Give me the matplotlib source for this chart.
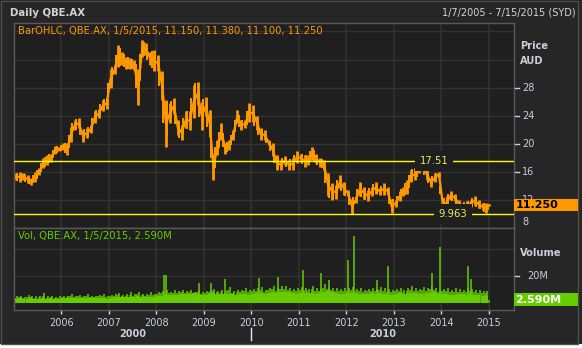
import numpy as np
import pandas as pd
import matplotlib
matplotlib.use("Agg")
import matplotlib.pyplot as plt
import matplotlib.dates as mdates
from matplotlib.patches import Rectangle

plt.rcParams['font.family'] = ['DejaVu Sans']

W, H = 582, 348

# ---------------- data ----------------
month_start = "2005-01-01"
n_months = 120
last_date = "2015-01-05"
last_open, last_high, last_low, last_close = 11.150, 11.380, 11.100, 11.250
last_vol = 2.590

price_high = [
    15.8, 16.0, 15.8, 15.5, 15.1, 16.0, 16.5, 17.9, 18.4, 18.6, 19.7, 19.6,
    20.1, 20.1, 22.4, 23.4, 23.6, 22.0, 22.2, 22.7, 24.6, 25.0, 26.2, 26.5,
    30.7, 31.2, 34.1, 33.1, 32.4, 32.2, 31.9, 30.7, 34.8, 34.3, 33.1, 33.4,
    32.6, 30.3, 26.2, 25.8, 26.5, 23.4, 22.7, 24.6, 24.6, 28.4, 28.8, 26.0,
    26.7, 24.8, 18.6, 20.5, 22.9, 20.1, 20.5, 22.0, 24.8, 23.4, 23.4, 25.8,
    25.5, 23.9, 22.2, 22.0, 20.5, 20.1, 18.4, 17.7, 18.2, 17.7, 17.9, 18.9,
    18.6, 18.4, 18.4, 19.6, 18.6, 17.9, 17.7, 15.8, 14.4, 14.1, 15.5, 14.6,
    13.4, 12.2, 12.5, 14.6, 13.9, 13.4, 13.9, 14.6, 13.7, 14.4, 13.9, 12.2,
    12.0, 13.2, 13.9, 14.8, 16.3, 16.5, 17.2, 17.5, 16.3, 15.1, 15.8, 16.0,
    12.0, 12.5, 13.2, 12.9, 12.0, 11.5, 11.8, 12.0, 12.5, 12.0, 11.5, 11.5,
]
price_low = [
    14.8, 14.6, 14.8, 14.4, 14.1, 14.6, 15.5, 16.5, 17.0, 17.4, 18.6, 18.9,
    19.1, 18.4, 20.3, 22.0, 22.2, 20.3, 20.8, 21.5, 22.9, 23.6, 24.6, 25.0,
    27.9, 30.0, 31.0, 31.2, 30.7, 30.7, 30.5, 25.5, 32.4, 32.6, 31.2, 30.3,
    30.3, 26.2, 19.6, 22.9, 24.3, 21.2, 20.5, 22.2, 22.0, 23.6, 25.5, 22.0,
    23.9, 21.0, 14.8, 18.4, 20.5, 18.6, 19.1, 20.5, 22.9, 22.0, 22.2, 23.1,
    23.1, 22.0, 20.5, 20.5, 19.8, 18.2, 16.3, 16.3, 17.0, 16.3, 16.3, 17.2,
    17.4, 16.7, 17.0, 17.7, 17.2, 16.7, 16.3, 12.5, 12.0, 12.2, 13.7, 12.7,
    12.5, 9.96, 11.5, 12.5, 12.2, 11.8, 12.5, 12.9, 12.7, 12.7, 12.7, 10.1,
    11.0, 11.8, 12.5, 12.9, 14.6, 14.8, 15.8, 16.3, 14.8, 13.9, 14.6, 15.3,
    10.3, 11.0, 12.0, 11.8, 11.0, 10.8, 10.8, 11.0, 11.3, 10.8, 10.6, 10.1,
]

# volume, millions of shares
vol_typ = [
    3.4, 3.6, 3.3, 3.5, 3.7, 3.5, 3.4, 3.7, 3.5, 3.8, 3.4, 3.3,
    3.7, 3.8, 3.6, 3.9, 4.1, 3.8, 3.7, 3.9, 3.8, 4.0, 3.9, 3.5,
    4.2, 4.3, 4.6, 4.3, 4.6, 4.5, 4.7, 5.1, 4.6, 4.8, 4.9, 4.6,
    5.0, 5.4, 6.4, 6.0, 6.2, 6.0, 6.5, 6.8, 7.0, 7.2, 6.8, 5.8,
    6.4, 7.0, 7.6, 7.0, 6.8, 6.5, 6.9, 6.5, 6.3, 6.6, 6.8, 6.1,
    7.0, 7.5, 7.2, 7.0, 7.8, 8.0, 7.6, 8.2, 8.4, 8.0, 7.4, 7.1,
    7.5, 7.8, 7.5, 7.3, 7.1, 7.6, 8.5, 9.2, 8.0, 7.4, 7.0, 6.7,
    7.2, 7.6, 7.3, 6.9, 6.7, 7.0, 7.2, 6.9, 7.4, 7.1, 6.7, 6.4,
    6.9, 7.2, 6.8, 7.0, 7.4, 7.2, 7.0, 6.8, 7.2, 7.6, 8.0, 7.0,
    6.9, 6.7, 6.4, 6.3, 6.6, 6.8, 6.2, 7.0, 6.4, 6.0, 5.7, 5.4,
]
vol_max = [
    5.0, 5.5, 4.8, 6.0, 5.2, 5.0, 5.5, 7.3, 5.0, 5.5, 4.8, 5.2,
    5.5, 5.2, 6.5, 5.5, 6.0, 5.2, 7.0, 5.5, 5.2, 6.0, 6.5, 5.5,
    6.0, 7.0, 7.5, 6.0, 6.5, 8.0, 6.5, 8.5, 7.0, 6.5, 8.0, 7.0,
    8.0, 9.0, 9.5, 8.5, 9.5, 9.3, 10.0, 9.0, 9.5, 8.5, 9.5, 8.5,
    9.0, 10.0, 10.5, 9.0, 9.5, 9.0, 12.0, 9.0, 10.0, 9.5, 11.0, 10.0,
    10.5, 11.0, 12.0, 10.0, 11.5, 13.0, 11.0, 12.5, 13.0, 11.0, 10.5, 11.0,
    12.0, 11.0, 10.5, 13.0, 11.0, 10.5, 14.0, 12.0, 11.5, 11.0, 10.5, 11.0,
    11.0, 12.0, 10.5, 11.0, 10.0, 10.5, 11.0, 10.5, 12.0, 11.0, 10.5, 10.0,
    10.5, 11.0, 10.0, 11.5, 12.5, 11.0, 10.5, 12.0, 11.0, 13.0, 11.5, 10.0,
    10.5, 11.5, 10.0, 11.0, 10.5, 10.0, 11.0, 10.5, 10.0, 9.5, 9.0, 9.0,
]
spike_dates = [
    "2008-02-28", "2008-03-18", "2008-11-28", "2009-02-28", "2009-06-10",
    "2010-02-28", "2010-07-23", "2011-02-03", "2011-06-18", "2011-08-25",
    "2012-01-15", "2012-02-28", "2012-08-22", "2012-11-18", "2013-10-20",
    "2013-12-20", "2014-07-26", "2014-08-22",
]
spike_vol = [
    20.7, 20.7, 14.6, 14.6, 17.6,
    18.3, 19.5, 24.4, 22.0, 17.0,
    31.7, 49.0, 17.0, 27.0, 22.4,
    41.5, 27.0, 18.0,
]

level_hi = 17.51
level_lo = 9.963

price_ticks = [8, 12, 16, 20, 24, 28]
price_grid = [12, 16, 20, 24, 28, 32, 36]
vol_ticks = [0, 20]
vol_grid = [20, 40]
years = list(range(2006, 2016))
x_start, x_end = "2005-01-01", "2015-07-15"

# ---------------- colours ----------------
BG_OUT = '#262626'
BG_PLOT = '#1f1f1f'
GRID = '#333333'
SPINE = '#5a5a5a'
ORANGE = '#ff9900'
GREEN = '#66cc00'
YELLOW = '#ffff00'
LBL = '#c8d0dc'

# ---------------- figure ----------------
fig = plt.figure(figsize=(W / 100, H / 100), dpi=100, facecolor='white')


def fx(px):
    return px / W


def fy(py):
    return 1 - py / H


fig.add_artist(Rectangle((0, fy(344)), 1, 344 / H, transform=fig.transFigure,
                         facecolor=BG_OUT, edgecolor='none', zorder=-10))
fig.add_artist(Rectangle((fx(0.5), fy(343.5)), fx(578) - fx(0.5), 343 / H,
                         transform=fig.transFigure, facecolor='none',
                         edgecolor='#4e4e4e', lw=1, zorder=-9))

ax_p = fig.add_axes([fx(14), fy(228), fx(514) - fx(14), fy(23) - fy(228)])
ax_v = fig.add_axes([fx(14), fy(310), fx(514) - fx(14), fy(228) - fy(310)])

months = pd.date_range(month_start, periods=n_months, freq="MS") + pd.Timedelta(days=14)
xm = mdates.date2num(months.to_pydatetime())
x_last = mdates.date2num(pd.Timestamp(last_date).to_pydatetime())
xlim = (mdates.date2num(pd.Timestamp(x_start).to_pydatetime()),
        mdates.date2num(pd.Timestamp(x_end).to_pydatetime()))
year_x = [mdates.date2num(pd.Timestamp(f"{y}-01-01").to_pydatetime()) for y in years]

for ax in (ax_p, ax_v):
    ax.set_facecolor(BG_PLOT)
    ax.set_xlim(*xlim)
    for s in ax.spines.values():
        s.set_color(SPINE)
        s.set_linewidth(1)
    for xv in year_x:
        ax.axvline(xv, color='#2d2d2d', lw=1.6, zorder=0.5)
    ax.tick_params(left=False, labelleft=False, right=False, labelright=False,
                   bottom=False, labelbottom=False, top=False, labeltop=False)

# ---- price panel ----
ax_p.set_ylim(8, 37.2)
for g in price_grid:
    ax_p.axhline(g, color=GRID, lw=1, zorder=0.6)

px_all = np.append(xm, x_last)
lo_all = np.append(price_low, last_low)
hi_all = np.append(price_high, last_high)
ax_p.vlines(px_all, lo_all, hi_all, color=ORANGE, lw=2.0, zorder=2)
ax_p.vlines(px_all[:-1] + 10, (lo_all[:-1] + lo_all[1:]) / 2, (hi_all[:-1] + hi_all[1:]) / 2,
            color=ORANGE, lw=1.4, zorder=2)
ax_p.plot(px_all, (lo_all + hi_all) / 2, color=ORANGE, lw=1.6, zorder=2,
          solid_joinstyle='miter')

ax_p.axhline(level_hi, color=YELLOW, lw=1, zorder=3)
ax_p.axhline(level_lo, color=YELLOW, lw=1, zorder=3)
x_lbl_hi = mdates.date2num(pd.Timestamp("2013-11-06").to_pydatetime())
x_lbl_lo = mdates.date2num(pd.Timestamp("2014-04-01").to_pydatetime())
ax_p.text(x_lbl_hi, level_hi, f"{level_hi:.2f}", color='#e6ee5a', fontsize=7.2,
          ha='center', va='center', zorder=4,
          bbox=dict(facecolor=BG_PLOT, edgecolor='none', pad=3.5))
ax_p.text(x_lbl_lo, level_lo, f"{level_lo:.3f}", color='#e6ee5a', fontsize=7.2,
          ha='center', va='center', zorder=4,
          bbox=dict(facecolor=BG_PLOT, edgecolor='none', pad=3.5))

ytr = ax_p.get_yaxis_transform()
for v in price_ticks:
    dy = 6 / 7.02 if v == 8 else 0
    if v != 8:
        ax_p.plot([1.002, 1.009], [v, v], transform=ytr, color=LBL, lw=1,
                  clip_on=False, zorder=4)
    ax_p.text(1.016, v + dy, str(v), transform=ytr, color=LBL, fontsize=7,
              ha='left', va='center', clip_on=False)

ax_p.add_patch(Rectangle((1.0, last_close - 0.86), 0.128, 1.72, transform=ytr,
                         facecolor=ORANGE, edgecolor='none', clip_on=False, zorder=6))
ax_p.text(1.003, last_close, f"{last_close:.3f}", transform=ytr, color='black',
          fontsize=8, fontweight='bold', ha='left', va='center', clip_on=False, zorder=7)

# ---- volume panel ----
ax_v.set_ylim(-4.9, 55.2)
for g in vol_grid:
    ax_v.axhline(g, color=GRID, lw=1, zorder=0.6)
ax_v.bar(xm, vol_typ, width=30.5, color=GREEN, linewidth=0, zorder=2)
ax_v.vlines(xm + 8, 0, vol_max, color=GREEN, lw=1.1, zorder=2)
ax_v.vlines(xm - 6, 0, (np.array(vol_typ) + np.array(vol_max)) / 2, color=GREEN,
            lw=1.1, zorder=2)
sx = mdates.date2num(pd.to_datetime(spike_dates).to_pydatetime())
ax_v.vlines(sx, 0, spike_vol, color=GREEN, lw=1.1, zorder=2)
ax_v.vlines([x_last], 0, [last_vol], color=GREEN, lw=1.1, zorder=2)

vtr = ax_v.get_yaxis_transform()
for v in vol_ticks:
    if v != 0:
        ax_v.plot([1.002, 1.009], [v, v], transform=vtr, color=LBL, lw=1,
                  clip_on=False, zorder=4)
    ax_v.text(1.026, v, "0" if v == 0 else f"{v}M", transform=vtr, color=LBL,
              fontsize=7, ha='left', va='center', clip_on=False)
ax_v.add_patch(Rectangle((1.0, last_vol - 4.8), 0.128, 9.6, transform=vtr,
                         facecolor=GREEN, edgecolor='none', clip_on=False, zorder=6))
ax_v.text(1.003, last_vol, f"{last_vol:.3f}M", transform=vtr, color='white',
          fontsize=8, fontweight='bold', ha='left', va='center', clip_on=False, zorder=7)

ax_v.set_xticks(year_x)
ax_v.set_xticklabels([str(y) for y in years])
ax_v.tick_params(axis='x', bottom=True, labelbottom=True, length=3, width=1,
                 color='#dddddd', labelcolor=LBL, labelsize=7, pad=3)

xtr = ax_v.get_xaxis_transform()
x2010 = mdates.date2num(pd.Timestamp("2010-01-01").to_pydatetime())
ax_v.plot([x2010, x2010], [-(328 - 310) / 82, -(340 - 310) / 82], transform=xtr,
          color='#e8e8e8', lw=1, clip_on=False)
ax_v.text((xlim[0] + x2010) / 2, -(334 - 310) / 82, "2000", transform=xtr,
          color=LBL, fontsize=7, fontweight='bold', ha='center', va='center')
ax_v.text((x2010 + xlim[1]) / 2, -(334 - 310) / 82, "2010", transform=xtr,
          color=LBL, fontsize=7, fontweight='bold', ha='center', va='center')

# ---- texts ----
fig.text(fx(10), fy(12.5), "Daily QBE.AX", color='#d4d4d4', fontsize=7.3,
         fontweight='bold', ha='left', va='center')
fig.text(fx(576), fy(12.5), "1/7/2005 - 7/15/2015 (SYD)", color='#d4d4d4',
         fontsize=7, ha='right', va='center')
fig.text(fx(18), fy(31), "BarOHLC, QBE.AX, 1/5/2015, 11.150, 11.380, 11.100, 11.250",
         color=ORANGE, fontsize=7.2, ha='left', va='center')
fig.text(fx(18), fy(236.5), "Vol, QBE.AX, 1/5/2015, 2.590M",
         color=GREEN, fontsize=7.2, ha='left', va='center')
fig.text(fx(520), fy(46), "Price", color=LBL, fontsize=7.1, fontweight='bold',
         ha='left', va='center')
fig.text(fx(520), fy(61), "AUD", color=LBL, fontsize=7.1, fontweight='bold',
         ha='left', va='center')
fig.text(fx(520), fy(253), "Volume", color=LBL, fontsize=7.1, fontweight='bold',
         ha='left', va='center')

fig.savefig("out.png", dpi=100, facecolor=fig.get_facecolor())
